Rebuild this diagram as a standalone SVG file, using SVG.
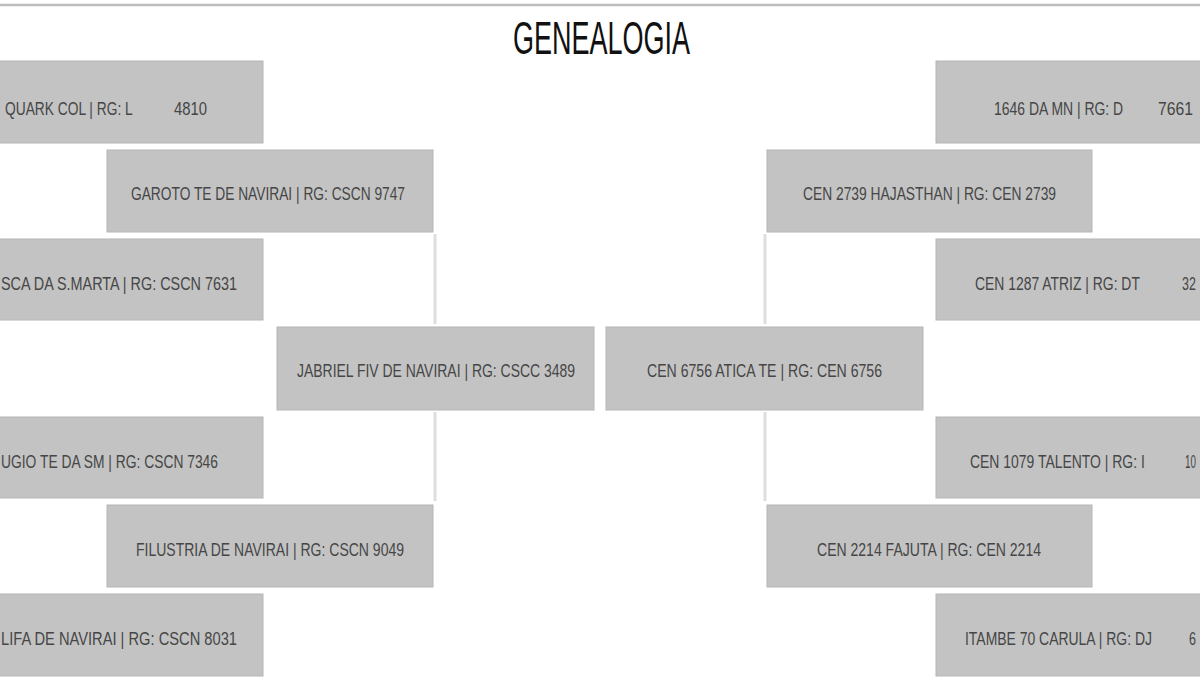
<svg xmlns="http://www.w3.org/2000/svg" width="1200" height="700" viewBox="0 0 1200 700">
<style>
.box{fill:#c3c3c3;stroke:#b6b6b6;stroke-width:1}
.t{font-family:"Liberation Sans",Arial,sans-serif;font-size:19px;fill:#464646}
.title{font-family:"Liberation Sans",Arial,sans-serif;font-size:46px;fill:#111}
.conn{stroke:#dedede;stroke-width:3;fill:none}
</style>
<rect x="0" y="0" width="1200" height="700" fill="#fff"/>
<line x1="0" y1="5" x2="1200" y2="5" stroke="#bdbdbd" stroke-width="2.5"/>
<text class="title" x="513" y="54" textLength="177" lengthAdjust="spacingAndGlyphs">GENEALOGIA</text>

<g id="connectors">
<line class="conn" x1="435" y1="234" x2="435" y2="324"/>
<line class="conn" x1="435" y1="412" x2="435" y2="501"/>
<line class="conn" x1="765" y1="234" x2="765" y2="324"/>
<line class="conn" x1="765" y1="412" x2="765" y2="501"/>
</g>

<g id="n-quark">
<rect class="box" x="-2" y="61" width="265" height="82"/>
<text class="t" transform="translate(5,115) scale(0.76,1)" x="0" y="0" textLength="168" lengthAdjust="spacingAndGlyphs">QUARK COL | RG: L</text>
<text class="t" x="174" y="115" textLength="33" lengthAdjust="spacingAndGlyphs">4810</text>
</g>
<g id="n-garoto">
<rect class="box" x="107" y="150" width="326" height="82"/>
<text class="t" x="131" y="200" textLength="274" lengthAdjust="spacingAndGlyphs">GAROTO TE DE NAVIRAI | RG: CSCN 9747</text>
</g>
<g id="n-smarta">
<rect class="box" x="-2" y="239" width="265" height="81"/>
<text class="t" x="1" y="290" textLength="236" lengthAdjust="spacingAndGlyphs">SCA DA S.MARTA | RG: CSCN 7631</text>
</g>
<g id="n-jabriel">
<rect class="box" x="277" y="327" width="317" height="83"/>
<text class="t" x="297" y="377" textLength="278" lengthAdjust="spacingAndGlyphs">JABRIEL FIV DE NAVIRAI | RG: CSCC 3489</text>
</g>
<g id="n-ugio">
<rect class="box" x="-2" y="417" width="265" height="81"/>
<text class="t" x="1" y="468" textLength="217" lengthAdjust="spacingAndGlyphs">UGIO TE DA SM | RG: CSCN 7346</text>
</g>
<g id="n-filustria">
<rect class="box" x="107" y="505" width="326" height="82"/>
<text class="t" x="136" y="556" textLength="268" lengthAdjust="spacingAndGlyphs">FILUSTRIA DE NAVIRAI | RG: CSCN 9049</text>
</g>
<g id="n-lifa">
<rect class="box" x="-2" y="594" width="265" height="82"/>
<text class="t" x="1" y="645" textLength="236" lengthAdjust="spacingAndGlyphs">LIFA DE NAVIRAI | RG: CSCN 8031</text>
</g>

<g id="n-1646">
<rect class="box" x="936" y="61" width="266" height="82"/>
<text class="t" transform="translate(994,115) scale(0.76,1)" x="0" y="0" textLength="170" lengthAdjust="spacingAndGlyphs">1646 DA MN | RG: D</text>
<text class="t" x="1158" y="115" textLength="35" lengthAdjust="spacingAndGlyphs">7661</text>
</g>
<g id="n-hajasthan">
<rect class="box" x="767" y="150" width="325" height="82"/>
<text class="t" x="803" y="200" textLength="253" lengthAdjust="spacingAndGlyphs">CEN 2739 HAJASTHAN | RG: CEN 2739</text>
</g>
<g id="n-atriz">
<rect class="box" x="936" y="239" width="266" height="81"/>
<text class="t" transform="translate(975,290) scale(0.76,1)" x="0" y="0" textLength="217" lengthAdjust="spacingAndGlyphs">CEN 1287 ATRIZ | RG: DT</text>
<text class="t" transform="translate(1182,290) scale(0.66,1)" x="0" y="0" textLength="21" lengthAdjust="spacingAndGlyphs">32</text>
</g>
<g id="n-atica">
<rect class="box" x="606" y="327" width="317" height="83"/>
<text class="t" x="647" y="377" textLength="235" lengthAdjust="spacingAndGlyphs">CEN 6756 ATICA TE | RG: CEN 6756</text>
</g>
<g id="n-talento">
<rect class="box" x="936" y="417" width="266" height="81"/>
<text class="t" transform="translate(970,468) scale(0.76,1)" x="0" y="0" textLength="230" lengthAdjust="spacingAndGlyphs">CEN 1079 TALENTO | RG: I</text>
<text class="t" transform="translate(1185,468) scale(0.52,1)" x="0" y="0" textLength="21" lengthAdjust="spacingAndGlyphs">10</text>
</g>
<g id="n-fajuta">
<rect class="box" x="767" y="505" width="325" height="82"/>
<text class="t" x="817" y="556" textLength="224" lengthAdjust="spacingAndGlyphs">CEN 2214 FAJUTA | RG: CEN 2214</text>
</g>
<g id="n-carula">
<rect class="box" x="936" y="594" width="266" height="82"/>
<text class="t" transform="translate(965,645) scale(0.76,1)" x="0" y="0" textLength="246" lengthAdjust="spacingAndGlyphs">ITAMBE 70 CARULA | RG: DJ</text>
<text class="t" x="1189" y="645" textLength="7" lengthAdjust="spacingAndGlyphs">6</text>
</g>
</svg>
